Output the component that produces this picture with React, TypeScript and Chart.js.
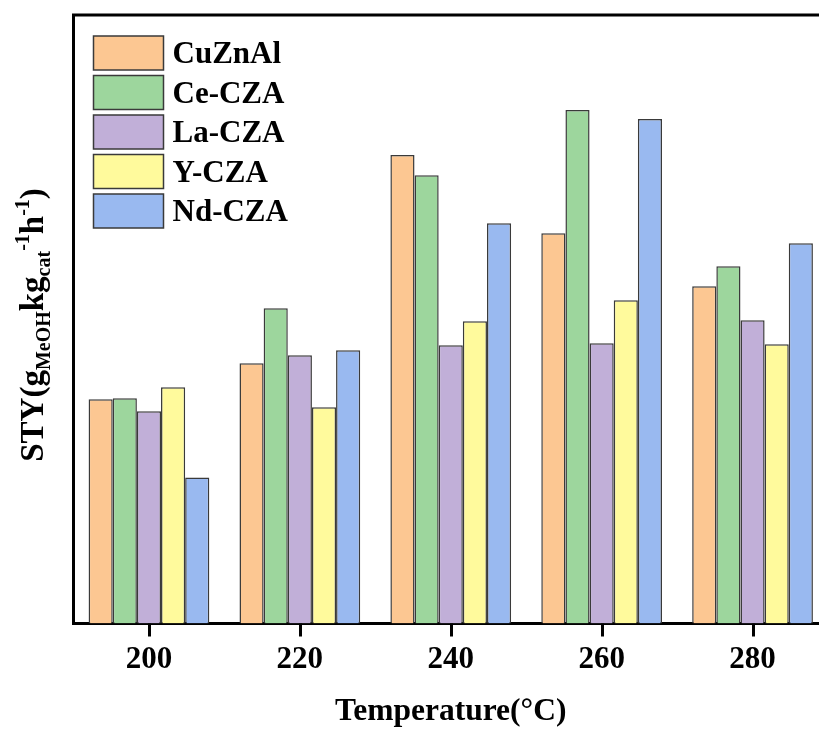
import React, { useEffect, useRef } from "react";
import { Chart, registerables } from "chart.js";

Chart.register(...registerables);

const categories = ["200", "220", "240", "260", "280"];
const seriesNames = ["CuZnAl", "Ce-CZA", "La-CZA", "Y-CZA", "Nd-CZA"];
const cuZnAl = [224, 260, 468, 390, 337];
const ceCZA = [225, 315, 448, 513, 357];
const laCZA = [212, 268, 278, 280, 303];
const yCZA = [236, 216, 302, 323, 279];
const ndCZA = [146, 273, 400, 504, 380];
const seriesColors = ["#FCC792", "#9DD69D", "#C1AFD8", "#FFFA9C", "#99B9F0"];
const yMax = 608;

const FONT = "'Liberation Serif', 'Times New Roman', serif";

const framePlugin = {
  id: "frame",
  afterDraw(chart: any) {
    const { ctx, chartArea } = chart;
    const xs = chart.scales.x;
    ctx.save();
    ctx.strokeStyle = "#000";
    ctx.lineWidth = 3;
    ctx.beginPath();
    ctx.moveTo(chartArea.left - 1.5, chartArea.top);
    ctx.lineTo(chartArea.right + 1.5, chartArea.top);
    ctx.moveTo(chartArea.right, chartArea.top);
    ctx.lineTo(chartArea.right, chartArea.bottom);
    // outward tick marks at category centres
    xs.ticks.forEach((_t: any, i: number) => {
      const px = Math.round(xs.getPixelForTick(i)) + 0.5;
      ctx.moveTo(px, chartArea.bottom);
      ctx.lineTo(px, chartArea.bottom + 13);
    });
    ctx.stroke();
    ctx.restore();
  },
};

const legendPlugin = {
  id: "innerLegend",
  afterDraw(chart: any) {
    const { ctx, chartArea } = chart;
    const x0 = chartArea.left + 20;
    const y0 = chartArea.top + 21;
    const pitch = 39.5;
    ctx.save();
    chart.data.datasets.forEach((ds: any, i: number) => {
      const y = y0 + i * pitch;
      ctx.fillStyle = ds.backgroundColor;
      ctx.fillRect(x0, y, 70, 34);
      ctx.strokeStyle = "#3a3a3a";
      ctx.lineWidth = 1.5;
      ctx.strokeRect(x0, y, 70, 34);
      ctx.fillStyle = "#000";
      ctx.font = `bold 31px ${FONT}`;
      ctx.textBaseline = "alphabetic";
      ctx.textAlign = "left";
      ctx.fillText(ds.label, x0 + 79, y + 27);
    });
    ctx.restore();
  },
};

const titlesPlugin = {
  id: "axisTitles",
  afterDraw(chart: any) {
    const { ctx, chartArea } = chart;
    ctx.save();
    ctx.fillStyle = "#000";
    ctx.textBaseline = "alphabetic";
    // x title
    ctx.font = `bold 31.5px ${FONT}`;
    ctx.textAlign = "center";
    ctx.fillText("Temperature(°C)", (chartArea.left + chartArea.right) / 2, 720);
    // y title with sub/superscripts
    const segs: { t: string; k: string }[] = [
      { t: "STY(g", k: "n" },
      { t: "MeOH", k: "sub" },
      { t: "kg", k: "n" },
      { t: "cat", k: "sub" },
      { t: "-1", k: "sup" },
      { t: "h", k: "n" },
      { t: "-1", k: "sup" },
      { t: ")", k: "n" },
    ];
    const fontFor = (k: string) => (k === "n" ? `bold 33px ${FONT}` : `bold 20px ${FONT}`);
    let total = 0;
    const widths = segs.map((s) => {
      ctx.font = fontFor(s.k);
      const w = ctx.measureText(s.t).width;
      total += w;
      return w;
    });
    ctx.translate(43, 325);
    ctx.rotate(-Math.PI / 2);
    ctx.textAlign = "left";
    let x = -total / 2;
    segs.forEach((s, i) => {
      ctx.font = fontFor(s.k);
      const dy = s.k === "sub" ? 7 : s.k === "sup" ? -14 : 0;
      ctx.fillText(s.t, x, dy);
      x += widths[i];
    });
    ctx.restore();
  },
};

export default function App() {
  const ref = useRef<HTMLCanvasElement | null>(null);
  useEffect(() => {
    if (!ref.current) return;
    const values = [cuZnAl, ceCZA, laCZA, yCZA, ndCZA];
    const chart = new Chart(ref.current, {
      type: "bar",
      data: {
        labels: categories,
        datasets: seriesNames.map((name, i) => ({
          label: name,
          data: values[i],
          backgroundColor: seriesColors[i],
          borderColor: "#3a3a3a",
          borderWidth: 1.5,
          categoryPercentage: 0.8,
          barPercentage: 1.0,
        })),
      },
      options: {
        responsive: false,
        animation: false,
        devicePixelRatio: 1,
        layout: { padding: { top: 15, right: 2, left: 0, bottom: 0 } },
        plugins: {
          legend: { display: false },
          tooltip: { enabled: false },
        },
        scales: {
          x: {
            type: "category",
            grid: {
              display: false,
              drawOnChartArea: false,
              drawTicks: false,
              offset: false,
            },
            border: { display: true, color: "#000", width: 3 },
            ticks: {
              color: "#000",
              font: { family: FONT, size: 31, weight: "bold" },
              padding: 18,
              maxRotation: 0,
            },
            afterFit: (scale: any) => {
              scale.height = 107.5;
            },
          },
          y: {
            min: 0,
            max: yMax,
            grid: { display: false },
            border: { display: true, color: "#000", width: 3 },
            ticks: { display: false },
            afterFit: (scale: any) => {
              scale.width = 73.5;
            },
          },
        },
      },
      plugins: [framePlugin, legendPlugin, titlesPlugin],
    } as any);
    return () => chart.destroy();
  }, []);
  return (
    <div
      style={{
        position: "fixed",
        left: 0,
        top: 0,
        width: 819,
        height: 731,
        overflow: "hidden",
        background: "#fff",
      }}
    >
      <canvas ref={ref} width={830} height={731} style={{ display: "block" }} />
    </div>
  );
}
